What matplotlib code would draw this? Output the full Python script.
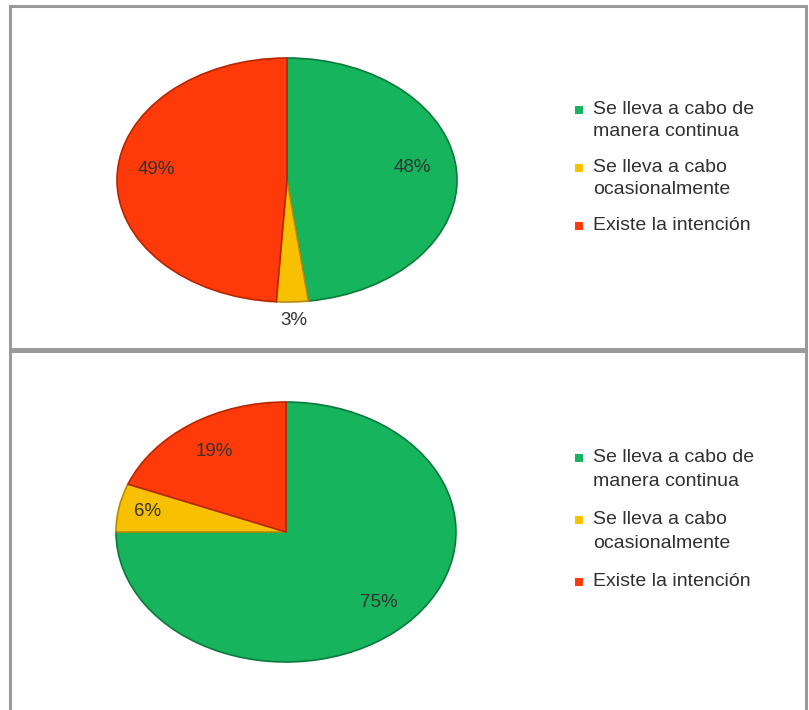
import matplotlib
matplotlib.use("Agg")
import matplotlib.pyplot as plt
import numpy as np
from matplotlib.patches import Rectangle

plt.rcParams["font.family"] = ["Liberation Sans", "DejaVu Sans"]

categories = [
    "Se lleva a cabo de\nmanera continua",
    "Se lleva a cabo\nocasionalmente",
    "Existe la intención",
]
top_values = [48, 3, 49]
bottom_values = [75, 6, 19]

colors = ["#16b45c", "#f7c000", "#ff3a0a"]
edges = ["#0b7a3c", "#b88c00", "#b82600"]

W, H = 809, 710
fig = plt.figure(figsize=(W / 100, H / 100), dpi=100)


def px_axes(cx, cy, rx, ry):
    return fig.add_axes([(cx - rx) / W, 1 - (cy + ry) / H, 2 * rx / W, 2 * ry / H])


def draw_pie(ax, values, label_dist, lift=0.0):
    wedges, _ = ax.pie(values, colors=colors, startangle=90, counterclock=False,
                       wedgeprops=dict(linewidth=1.2))
    for w, ec in zip(wedges, edges):
        w.set_edgecolor(ec)
    for w, v, d in zip(wedges, values, label_dist):
        ang = np.deg2rad((w.theta1 + w.theta2) / 2)
        ax.text(d * np.cos(ang), d * np.sin(ang) + lift, f"{v}%", ha="center",
                va="center", fontsize=13.5, color="#333333")
    ax.set_aspect("auto")
    ax.set_xlim(-1, 1)
    ax.set_ylim(-1, 1)
    ax.axis("off")


def draw_legend(x, y_first, line_h, gap, spacing):
    y = y_first
    for lab, c in zip(categories, colors):
        fig.patches.append(Rectangle(((x - 4) / W, 1 - (y + 4) / H), 8 / W, 8 / H,
                                     transform=fig.transFigure, facecolor=c,
                                     edgecolor="none"))
        nlines = lab.count("\n") + 1
        fig.text((x + 14) / W, 1 - (y - 9) / H, lab, ha="left", va="top",
                 fontsize=14, color="#303030", linespacing=spacing)
        y += nlines * line_h + gap


# panel frames
for top, bot in [(6, 349), (351, 712)]:
    fig.patches.append(Rectangle((10 / W, 1 - bot / H), 796 / W, (bot - top) / H,
                                 transform=fig.transFigure, facecolor="none",
                                 edgecolor="#9a9a9a", linewidth=2.2))

ax1 = px_axes(287, 180, 170, 122)
draw_pie(ax1, top_values, [0.74, 1.21, 0.77], lift=0.06)
draw_legend(579, 110, 22, 14, 1.38)

ax2 = px_axes(286, 532, 170, 130)
draw_pie(ax2, bottom_values, [0.77, 0.83, 0.75])
draw_legend(579, 458, 24, 14, 1.5)

fig.savefig("out.png", dpi=100)
